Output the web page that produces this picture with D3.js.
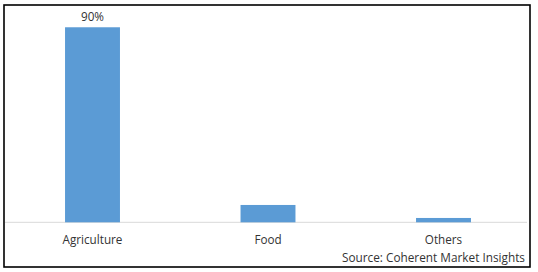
<!DOCTYPE html>
<html>
<head>
<meta charset="utf-8">
<script src="https://cdn.jsdelivr.net/npm/d3@7"></script>
<style>
html,body{margin:0;padding:0;background:#fff;}
svg{display:block;}
text{font-family:"Open Sans","Noto Sans",sans-serif;fill:#333;}
</style>
</head>
<body>
<svg id="chart" width="538" height="272"></svg>
<script>
const categories = ["Agriculture", "Food", "Others"];
const values = [90, 8, 2];
const valueLabels = ["90%", "", ""];
const sourceText = "Source: Coherent Market Insights";

const svg = d3.select("#chart");

// outer frame
svg.append("rect")
  .attr("x", 4).attr("y", 5)
  .attr("width", 526).attr("height", 262)
  .attr("fill", "#fff")
  .attr("stroke", "#000").attr("stroke-width", 1.6);

const x = d3.scaleBand()
  .domain(categories)
  .range([4.75, 531.25])
  .paddingInner(0.687)
  .paddingOuter(0.3435);

const y = d3.scaleLinear().domain([0, 100]).range([222.3, 5.6]);

// baseline
svg.append("line")
  .attr("x1", 5).attr("x2", 527)
  .attr("y1", y(0)).attr("y2", y(0))
  .attr("stroke", "#d9d9d9").attr("stroke-width", 1);

svg.selectAll("rect.bar")
  .data(categories)
  .enter().append("rect")
  .attr("class", "bar")
  .attr("x", d => x(d))
  .attr("width", x.bandwidth())
  .attr("y", (d, i) => y(values[i]))
  .attr("height", (d, i) => y(0) - y(values[i]))
  .attr("fill", "#5b9bd5");

svg.selectAll("text.vlabel")
  .data(categories)
  .enter().append("text")
  .attr("class", "vlabel")
  .attr("x", d => x(d) + x.bandwidth() / 2)
  .attr("y", (d, i) => y(values[i]) - 6)
  .attr("text-anchor", "middle")
  .attr("font-size", 11.7)
  .text((d, i) => valueLabels[i]);

svg.selectAll("text.cat")
  .data(categories)
  .enter().append("text")
  .attr("class", "cat")
  .attr("x", d => x(d) + x.bandwidth() / 2)
  .attr("y", 244)
  .attr("text-anchor", "middle")
  .attr("font-size", 11.7)
  .text(d => d);

svg.append("text")
  .attr("x", 525).attr("y", 262)
  .attr("text-anchor", "end")
  .attr("font-size", 11.8)
  .text(sourceText);
</script>
</body>
</html>
